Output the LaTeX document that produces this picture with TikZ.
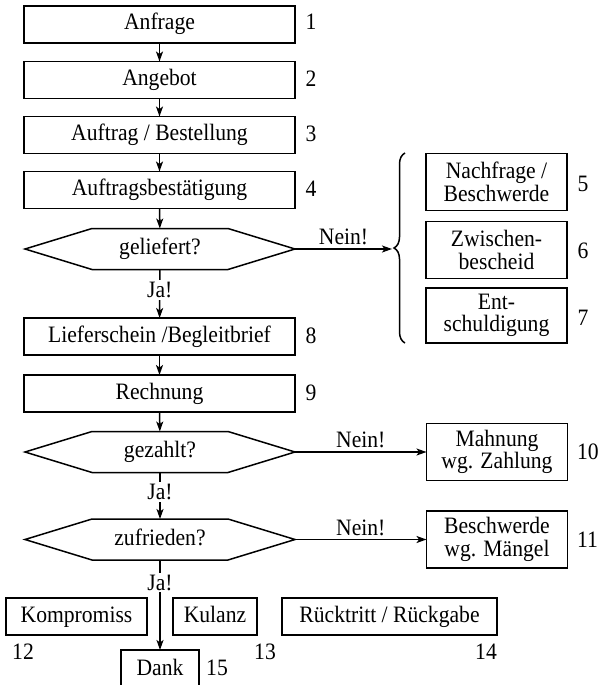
\documentclass[tikz,border=0pt]{standalone}
\usepackage{fontspec}
\setmainfont{Liberation Serif}[FakeStretch=0.92]
\usetikzlibrary{arrows.meta,decorations.pathreplacing}
\begin{document}
\begin{tikzpicture}[x=1pt,y=-1pt,
  font=\fontsize{23.5}{21}\selectfont,
  every node/.style={inner sep=0pt,outer sep=0pt},
  box/.style={draw,line width=1.5pt,minimum width=271pt,minimum height=37pt,text height=16pt,text depth=5pt},
  sidebox/.style={draw,line width=1.5pt,minimum width=141pt,minimum height=57pt,align=center,font=\fontsize{23.5}{22.5}\selectfont},
  smallbox/.style={draw,line width=1.5pt,minimum height=37pt,text height=16pt,text depth=5pt},
  hexnode/.style={minimum width=270pt,minimum height=41pt,text height=16pt,text depth=5pt},
  conn/.style={line width=1.5pt,-{Stealth[length=10pt,width=7pt,inset=2.5pt]}},
  lab/.style={fill=white,inner sep=2pt}]
\useasboundingbox (0,0) rectangle (599,685);
\newcommand{\hexdraw}[1]{\draw[line width=1.5pt] (#1.west) -- ([xshift=-68pt]#1.north) -- ([xshift=68pt]#1.north) -- (#1.east) -- ([xshift=68pt]#1.south) -- ([xshift=-68pt]#1.south) -- cycle;}
% main column
\node[box] (b1) at (159.5,24.5) {Anfrage};
\node[box] (b2) at (159.5,80) {Angebot};
\node[box] (b3) at (159.5,135) {Auftrag / Bestellung};
\node[box] (b4) at (159.5,190) {Auftragsbestätigung};
\node[hexnode] (h1) at (160,249) {geliefert?};
\hexdraw{h1}
\node[box] (b8) at (159.5,336.5) {Lieferschein /Begleitbrief};
\node[box] (b9) at (159.5,393.5) {Rechnung};
\node[hexnode] (h2) at (160,452) {gezahlt?};
\hexdraw{h2}
\node[hexnode] (h3) at (160,539.5) {zufrieden?};
\hexdraw{h3}
% numbers main column
\node (n1) at (311,22) {1};
\node (n2) at (311,79) {2};
\node (n3) at (311,134) {3};
\node (n4) at (311,189) {4};
\node (n8) at (311,336) {8};
\node (n9) at (311,393) {9};
% right side group
\node[sidebox] (b5) at (496.5,182) {Nachfrage /\\Beschwerde};
\node[sidebox] (b6) at (496.5,250) {Zwischen-\\bescheid};
\node[sidebox,minimum height=55pt] (b7) at (496.5,315.5) {Ent-\\schuldigung};
\node (n5) at (583,184) {5};
\node (n6) at (583,251) {6};
\node (n7) at (583,318) {7};
\draw[line width=1.5pt,decorate,decoration={brace,amplitude=11pt}] (405,343) -- (405,153);
\coordinate (bt) at (392,249);
\node[sidebox] (b10) at (497,452) {Mahnung\\wg. Zahlung};
\node[sidebox] (b11) at (497,539.5) {Beschwerde\\wg. Mängel};
\node[anchor=west] (n10) at (577,452) {10};
\node[anchor=west] (n11) at (577,539.5) {11};
% bottom row
\node[smallbox,minimum width=141pt] (b12) at (76.5,616.5) {Kompromiss};
\node[smallbox,minimum width=84pt] (b13) at (215,616.5) {Kulanz};
\node[smallbox,minimum width=215pt] (b14) at (389.5,616.5) {Rücktritt / Rückgabe};
\node (n12) at (23,652) {12};
\node (n13) at (265,652) {13};
\node (n14) at (486,652) {14};
\node[draw,line width=1.5pt,minimum width=78pt,minimum height=40pt,text height=16pt,text depth=5pt] (b15) at (160,670) {Dank};
\node (n15) at (217,668) {15};
% connectors
\draw[conn] (b1) -- (b2);
\draw[conn] (b2) -- (b3);
\draw[conn] (b3) -- (b4);
\draw[conn] (b4) -- (h1);
\draw[conn] (h1) -- node[lab,pos=0.42]{Ja!} (b8);
\draw[conn] (b8) -- (b9);
\draw[conn] (b9) -- (h2);
\draw[conn] (h2) -- node[lab,pos=0.42]{Ja!} (h3);
\draw[conn] (h3.south) -- node[lab,pos=0.25]{Ja!} (b15.north);
\draw[conn] (h1.east) -- node[above=4pt]{Nein!} (bt);
\draw[conn] (h2.east) -- node[above=4pt]{Nein!} (b10.west);
\draw[conn] (h3.east) -- node[above=4pt]{Nein!} (b11.west);
\end{tikzpicture}
\end{document}
